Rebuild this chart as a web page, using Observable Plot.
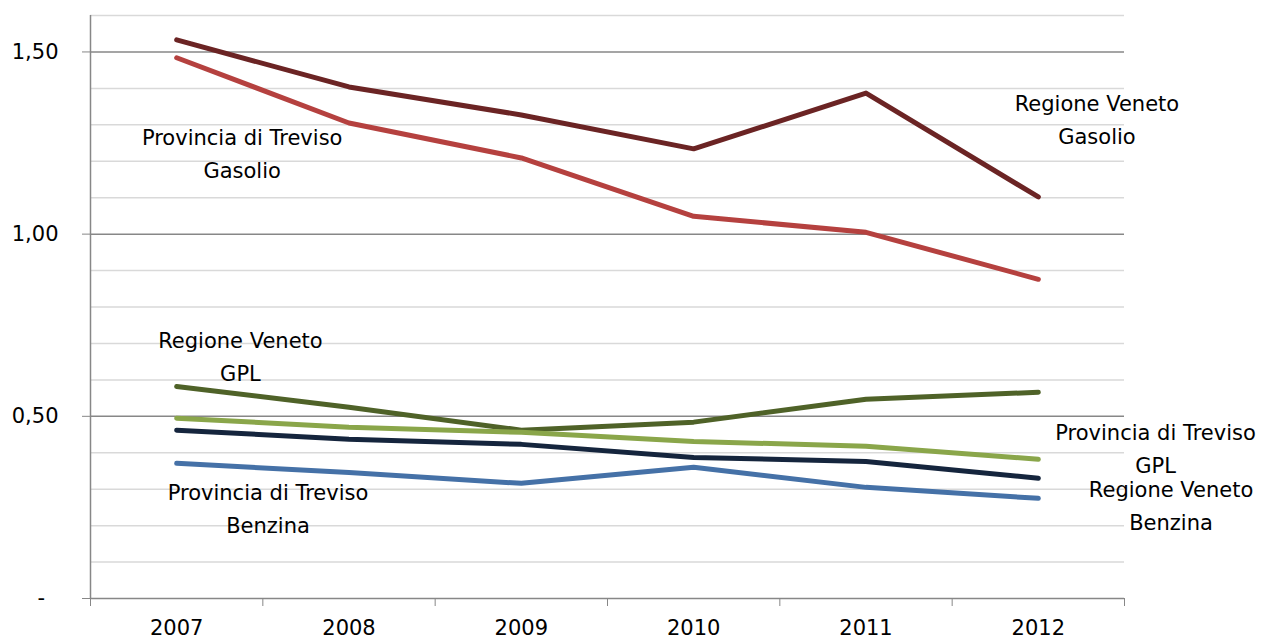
<!DOCTYPE html>
<html><head><meta charset="utf-8">
<script src="https://cdn.jsdelivr.net/npm/d3@7"></script>
<script src="https://cdn.jsdelivr.net/npm/@observablehq/plot@0.6"></script>
<style>body{margin:0;background:#fff}</style>
</head><body><div id="chart"></div>
<script>
const years = [2007, 2008, 2009, 2010, 2011, 2012];
const seriesNames = [
  "Regione Veneto Gasolio",
  "Provincia di Treviso Gasolio",
  "Regione Veneto GPL",
  "Provincia di Treviso GPL",
  "Regione Veneto Benzina",
  "Provincia di Treviso Benzina"
];
const venetoGasolio   = [1.533, 1.404, 1.327, 1.234, 1.387, 1.102];
const trevisoGasolio  = [1.484, 1.305, 1.209, 1.049, 1.005, 0.876];
const venetoGPL       = [0.582, 0.525, 0.462, 0.484, 0.547, 0.566];
const trevisoGPL      = [0.495, 0.470, 0.456, 0.431, 0.418, 0.382];
const venetoBenzina   = [0.462, 0.437, 0.423, 0.387, 0.376, 0.330];
const trevisoBenzina  = [0.371, 0.346, 0.316, 0.360, 0.305, 0.275];
const seriesColors = ["#6b2424", "#b5413f", "#4f6228", "#8aa64a", "#15253d", "#4571a7"];
const yTicks = [0, 0.5, 1, 1.5];
const yMinor = [0.1,0.2,0.3,0.4,0.6,0.7,0.8,0.9,1.1,1.2,1.3,1.4,1.6];

// series label annotations (text, x in year units, y value)
const labelTexts = [
  "Regione Veneto\nGasolio",
  "Provincia di Treviso\nGasolio",
  "Regione Veneto\nGPL",
  "Provincia di Treviso\nGPL",
  "Regione Veneto\nBenzina",
  "Provincia di Treviso\nBenzina"
];
const labelX = [2012.34, 2007.38, 2007.37, 2012.68, 2012.77, 2007.53];
const labelY = [1.321, 1.228, 0.670, 0.418, 0.261, 0.255];

const allValues = [venetoGasolio, trevisoGasolio, venetoGPL, trevisoGPL, venetoBenzina, trevisoBenzina];
const rows = [];
seriesNames.forEach((s, i) => years.forEach((y, j) => rows.push({series: s, year: y, value: allValues[i][j]})));
const labels = labelTexts.map((t, i) => ({text: t, x: labelX[i], y: labelY[i]}));
const bounds = d3.range(years.length + 1).map(i => years[0] - 0.5 + i);

const chart = Plot.plot({
  width: 1262,
  height: 644,
  marginLeft: 90,
  marginRight: 138,
  marginTop: 15,
  marginBottom: 46,
  style: {fontFamily: "'DejaVu Sans', sans-serif", fontSize: "21px", background: "#fff", color: "#000"},
  x: {domain: [bounds[0], bounds[bounds.length - 1]]},
  y: {domain: [0, 1.6]},
  color: {domain: seriesNames, range: seriesColors},
  marks: [
    Plot.ruleY(yMinor, {stroke: "#d9d9d9", strokeWidth: 1.5}),
    Plot.ruleY(yTicks.slice(1), {stroke: "#878787", strokeWidth: 1.5}),
    Plot.ruleY([0], {stroke: "#878787", strokeWidth: 1.5}),
    Plot.ruleX([bounds[0]], {stroke: "#878787", strokeWidth: 1.5}),
    Plot.axisY({ticks: yTicks, tickSize: 8, tickPadding: 24, fontSize: 21, stroke: "#878787",
      tickFormat: d => d === 0 ? "-\u00a0\u00a0" : d.toFixed(2).replace(".", ","), label: null}),
    Plot.axisX({ticks: bounds, tickSize: 8, tickFormat: () => "", stroke: "#878787", label: null}),
    Plot.axisX({ticks: years, tickSize: 0, tickPadding: 22, fontSize: 21, tickFormat: d => String(d), label: null}),
    Plot.line(rows, {x: "year", y: "value", z: "series", stroke: "series", strokeWidth: 5, strokeLinecap: "round", strokeLinejoin: "round"}),
    Plot.text(labels, {x: "x", y: "y", text: "text", fontSize: 21, lineHeight: 1.57, lineAnchor: "middle", textAnchor: "middle", fill: "#000"})
  ]
});
document.getElementById("chart").appendChild(chart);
</script>
</body></html>
